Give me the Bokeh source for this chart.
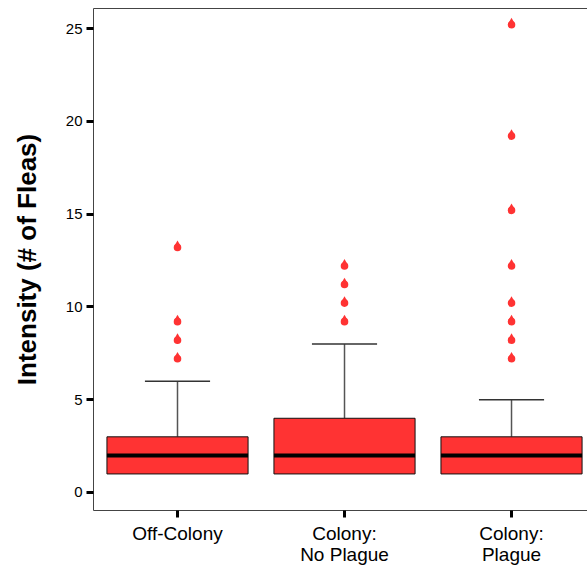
from bokeh.plotting import figure
from bokeh.models import Range1d, FixedTicker, LinearAxis
from bokeh.embed import file_html
from bokeh.resources import INLINE

# ---- data ----
categories = ["Off-Colony", "Colony:\nNo Plague", "Colony:\nPlague"]
q1 = [1, 1, 1]
median = [2, 2, 2]
q3 = [3, 4, 3]
whisker_low = [1, 1, 1]
whisker_high = [6, 8, 5]
outliers_off_colony = [7, 8, 9, 13]
outliers_no_plague = [9, 10, 11, 12]
outliers_plague = [7, 8, 9, 10, 12, 15, 19, 25]
y_ticks = [0, 5, 10, 15, 20, 25]

outliers = [outliers_off_colony, outliers_no_plague, outliers_plague]
xs = [i + 1 for i in range(len(categories))]

RED = "#FF3333"
BOX_W = 0.845
CAP_W = 0.39

p = figure(width=587, height=567, output_backend="svg", toolbar_location=None,
           x_range=Range1d(0.497, 3.455), y_range=Range1d(-0.97, 26.08),
           min_border_left=93, min_border_right=0, min_border_top=8, min_border_bottom=57)
p.outline_line_color = None
p.xgrid.visible = False
p.ygrid.visible = False
p.background_fill_color = "white"
p.border_fill_color = "white"

# boxes
p.segment(x0=xs, y0=q3, x1=xs, y1=whisker_high, line_color="#555555", line_width=1.5)
p.segment(x0=xs, y0=whisker_low, x1=xs, y1=q1, line_color="#555555", line_width=1.5)
p.segment(x0=[x - CAP_W / 2 for x in xs], x1=[x + CAP_W / 2 for x in xs],
          y0=whisker_high, y1=whisker_high, line_color="#333333", line_width=1.5)
p.vbar(x=xs, width=BOX_W, bottom=q1, top=q3, fill_color=RED, line_color="#111111", line_width=1)
p.segment(x0=[x - BOX_W / 2 for x in xs], x1=[x + BOX_W / 2 for x in xs],
          y0=median, y1=median, line_color="black", line_width=4)

# outliers as teardrops (circle + triangle), bottom of drop at value
px_per_unit = (510 - 8) / (26.08 + 0.97)
ox, oy = [], []
for x, vals in zip(xs, outliers):
    for v in vals:
        ox.append(x)
        oy.append(v)
p.scatter(x=ox, y=[v + 3.8 / px_per_unit for v in oy], marker="circle", size=7.6,
          fill_color=RED, line_color=None)
p.scatter(x=ox, y=[v + 7.0 / px_per_unit for v in oy], marker="triangle", size=6.4,
          fill_color=RED, line_color=None)

# axes styling
for ax in (p.xaxis[0], p.yaxis[0]):
    ax.axis_line_color = "#444444"
    ax.axis_line_width = 1
    ax.major_tick_line_color = "black"
    ax.major_tick_line_width = 3
    ax.major_tick_out = 7
    ax.major_tick_in = 0
    ax.minor_tick_line_color = None
    ax.major_label_text_font = "Liberation Sans"
    ax.major_label_text_color = "black"

p.yaxis[0].ticker = FixedTicker(ticks=y_ticks)
p.yaxis[0].major_label_text_font_size = "15px"
p.yaxis[0].major_label_standoff = 4
p.yaxis[0].axis_label = "Intensity (# of Fleas)"
p.yaxis[0].axis_label_text_font = "Liberation Sans"
p.yaxis[0].axis_label_text_font_style = "bold"
p.yaxis[0].axis_label_text_font_size = "26px"
p.yaxis[0].axis_label_text_color = "black"
p.yaxis[0].axis_label_standoff = 21

p.xaxis[0].ticker = FixedTicker(ticks=xs)
p.xaxis[0].major_label_overrides = {x: c for x, c in zip(xs, categories)}
p.xaxis[0].major_label_text_font_size = "19px"
p.xaxis[0].major_label_text_line_height = 1.0
p.xaxis[0].major_label_standoff = 5

top = LinearAxis(ticker=FixedTicker(ticks=[]), axis_line_color="#444444",
                 major_tick_line_color=None, minor_tick_line_color=None,
                 major_label_text_font_size="0px", major_label_standoff=0)
p.add_layout(top, "above")

open("out.html", "w").write(file_html(p, INLINE))
